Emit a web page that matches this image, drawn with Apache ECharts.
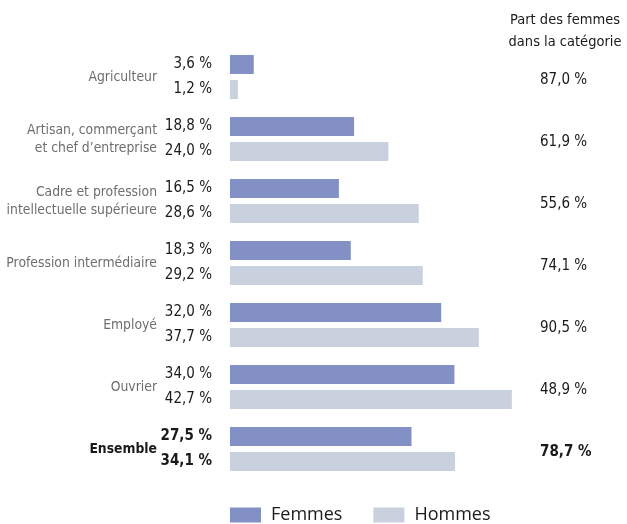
<!DOCTYPE html>
<html><head><meta charset="utf-8">
<script src="https://cdn.jsdelivr.net/npm/echarts@6/dist/echarts.min.js"></script>
<style>html,body{margin:0;padding:0;background:#fff}#c{width:627px;height:524px}</style>
</head><body><div id="c"></div>
<script>
var categories = ['Agriculteur', 'Artisan, commerçant\net chef d\u2019entreprise', 'Cadre et profession\nintellectuelle supérieure', 'Profession intermédiaire', 'Employé', 'Ouvrier', 'Ensemble'];
var femmes = [3.6, 18.8, 16.5, 18.3, 32.0, 34.0, 27.5];
var hommes = [1.2, 24.0, 28.6, 29.2, 37.7, 42.7, 34.1];
var partFemmes = [87.0, 61.9, 55.6, 74.1, 90.5, 48.9, 78.7];
var seriesNames = ['Femmes', 'Hommes'];
var headerLines = ['Part des femmes', 'dans la catégorie'];

var FONT = '"DejaVu Sans Condensed", "Liberation Sans Narrow", sans-serif';
function fr(v){ return v.toFixed(1).replace('.', ',') + ' %'; }
var last = categories.length - 1;

function mkData(arr){
  return arr.map(function(v, i){
    var d = {value: v};
    if (i === last) d.label = {fontWeight: 'bold'};
    return d;
  });
}

var chart = echarts.init(document.getElementById('c'), null, {renderer: 'canvas'});
chart.setOption({
  animation: false,
  backgroundColor: '#fff',
  grid: {left: 230, right: 100, top: 46, bottom: 44, containLabel: false, outerBoundsMode: 'none'},
  xAxis: {type: 'value', min: 0, max: 45, show: false},
  yAxis: [{
    type: 'category', data: categories, inverse: true,
    axisLine: {show: false}, axisTick: {show: false},
    axisLabel: {
      margin: 73, color: '#6e6e6e', fontFamily: FONT, fontSize: 13.8, lineHeight: 18, align: 'right',
      formatter: function(v, i){ return i === last ? '{b|' + v + '}' : v; },
      rich: {b: {fontWeight: 'bold', color: '#1a1a1a', fontFamily: FONT, fontSize: 13.8}}
    }
  }, {
    type: 'category', data: partFemmes.map(fr), inverse: true, position: 'right',
    axisLine: {show: false}, axisTick: {show: false},
    axisLabel: {
      margin: 13, align: 'left', color: '#1a1a1a', fontFamily: FONT, fontSize: 15,
      padding: [6, 0, 0, 0],
      formatter: function(v, i){ return i === last ? '{b|' + v + '}' : v; },
      rich: {b: {fontWeight: 'bold', color: '#1a1a1a', fontFamily: FONT, fontSize: 15}}
    }
  }],
  legend: {
    data: seriesNames, top: 506, left: 230, padding: 0, itemWidth: 31, itemHeight: 15, itemGap: 31,
    icon: 'rect',
    textStyle: {fontFamily: '"Open Sans", "Noto Sans", sans-serif', fontSize: 18, color: '#1a1a1a', padding: [0, 0, 0, 5]}
  },
  graphic: [{
    type: 'text', x: 565, y: 9,
    style: {text: headerLines.join('\n'), fill: '#1a1a1a', font: '14.5px ' + FONT, lineHeight: 22, align: 'center', verticalAlign: 'top'}
  }],
  series: [{
    name: seriesNames[0], type: 'bar', data: mkData(femmes), barWidth: 19, barGap: '32%',
    itemStyle: {color: '#8390c6'},
    label: {show: true, position: 'left', distance: 18, color: '#1a1a1a', fontFamily: FONT, fontSize: 15,
      formatter: function(p){ return fr(p.value); }}
  }, {
    name: seriesNames[1], type: 'bar', data: mkData(hommes), barWidth: 19, barGap: '32%',
    itemStyle: {color: '#c9d0de'},
    label: {show: true, position: 'left', distance: 18, color: '#1a1a1a', fontFamily: FONT, fontSize: 15,
      formatter: function(p){ return fr(p.value); }}
  }]
});
</script></body></html>
